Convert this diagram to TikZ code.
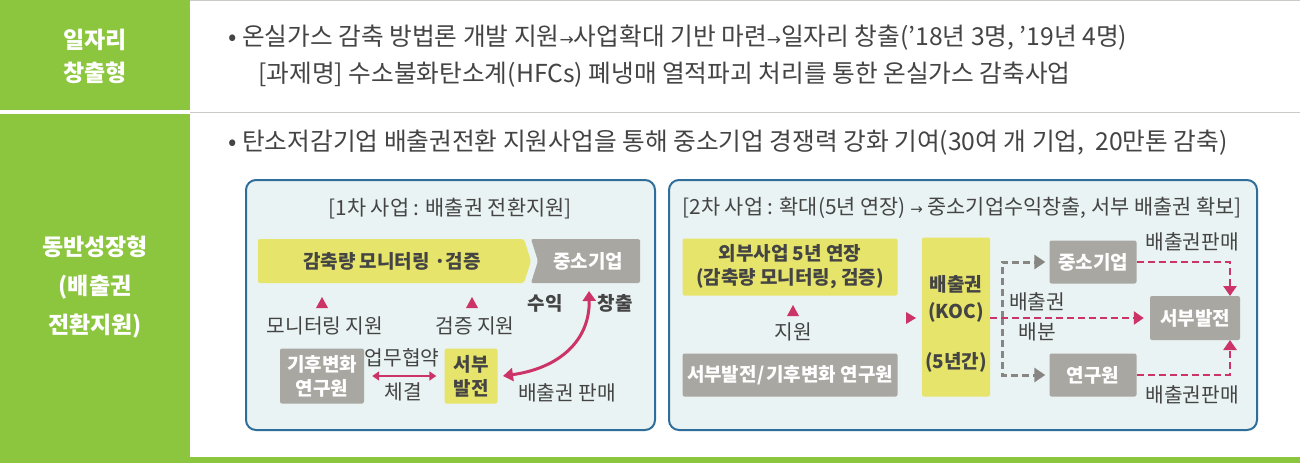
\documentclass[tikz,border=0pt]{standalone}
\usepackage{fontspec}
\setmainfont{Noto Sans CJK KR}
\newfontfamily\djv{DejaVu Sans}
\usetikzlibrary{arrows.meta}
\definecolor{grn}{HTML}{8CC63F}
\definecolor{ylw}{HTML}{E6E46A}
\definecolor{gry}{HTML}{A9A7A2}
\definecolor{pnk}{HTML}{CC3366}
\definecolor{bbd}{HTML}{2F6E9B}
\definecolor{bfl}{HTML}{EAF3F3}
\definecolor{txt}{HTML}{444444}
\begin{document}
\begin{tikzpicture}[x=1pt,y=-1pt,
 every node/.style={text=txt,inner sep=0pt},
 big/.style={font=\fontsize{24.7}{29}\selectfont},
 side/.style={font=\fontsize{23}{27}\selectfont\bfseries,text=white,align=center},
 sm/.style={font=\fontsize{20.3}{24}\selectfont},
 bl/.style={font=\fontsize{19}{23}\selectfont\bfseries},
 ybox/.style={fill=ylw,rounded corners=2pt,font=\fontsize{19}{24}\selectfont\bfseries,align=center},
 gbox/.style={fill=gry,rounded corners=2pt,text=white,font=\fontsize{19}{24}\selectfont\bfseries,align=center},
 pd/.style={pnk,line width=2.5pt,dash pattern=on 7pt off 4pt,-{Triangle[length=10pt,width=13pt]}},
 gd/.style={gry!80!black,line width=3pt,dash pattern=on 7pt off 4pt,-{Triangle[length=11pt,width=14pt]}},
 panel/.style={draw=bbd,line width=2pt,fill=bfl,rounded corners=10pt}]
\useasboundingbox (0,0) rectangle (1300,463);
\fill[white] (0,0) rectangle (1300,463);
\fill[grn] (0,0) rectangle (190,110);
\fill[grn] (0,114) rectangle (190,463);
\fill[grn] (190,457) rectangle (1300,463);
\draw[gry!60,line width=1pt] (190,0.5)--(1300,0.5) (190,112)--(1300,112);
\node[side] (l1) at (95,56) {일자리\\[6pt]창출형};
\node[side] (l2) at (95,287) {동반성장형\\[12pt](배출권\\[12pt]전환지원)};
\node[big,anchor=west] (t1) at (228,38) {• 온실가스 감축 방법론 개발 지원{\djv\fontsize{17}{17}\selectfont→}사업확대 기반 마련{\djv\fontsize{17}{17}\selectfont→}일자리 창출(’18년 3명, ’19년 4명)};
\node[big,anchor=west] (t2) at (258,75) {[과제명] 수소불화탄소계(HFCs) 폐냉매 열적파괴 처리를 통한 온실가스 감축사업};
\node[big,anchor=west] (t3) at (228,143) {• 탄소저감기업 배출권전환 지원사업을 통해 중소기업 경쟁력 강화 기여(30여 개 기업, ~20만톤 감축)};
% panel 1
\draw[panel] (246,180) rectangle (655,430);
\node[font=\fontsize{20.8}{24}\selectfont] (p1) at (450,209) {[1차 사업 : 배출권 전환지원]};
\fill[ylw,rounded corners=2pt] (258,239)--(524,239)--(531,261)--(524,283)--(258,283)--cycle;
\node[bl] (mon) at (392,261) {감축량 모니터링 ·검증};
\fill[gry,rounded corners=2pt] (531,239)--(640,239)--(640,283)--(531,283)--(538,261)--cycle;
\node[bl,text=white] (sme1) at (588,261) {중소기업};
\fill[pnk] (316,308)--(328,308)--(322,297)--cycle;
\fill[pnk] (466,308)--(478,308)--(472,297)--cycle;
\node[sm] (ms) at (325,326) {모니터링 지원};
\node[sm] (vs) at (475,326) {검증 지원};
\node[gbox,minimum width=84pt,minimum height=55pt] (cc) at (322,376) {기후변화\\연구원};
\node[ybox,minimum width=53pt,minimum height=55pt] (sb) at (471,376) {서부\\발전};
\draw[pnk,line width=2pt,{Triangle[length=7pt,width=9pt]}-{Triangle[length=7pt,width=9pt]}] ([xshift=8]cc.east) -- ([xshift=-8]sb.west);
\node[sm] (mou) at (402,358) {업무협약};
\node[sm] (sig) at (403,392) {체결};
\node[bl] (inc) at (545,303) {수익};
\node[bl] (cr) at (615,303) {창출};
\coordinate (ce) at (589,291);
\draw[pnk,line width=3pt,{Triangle[length=10pt,width=13pt]}-{Triangle[length=10pt,width=13pt]}] (503,376) .. controls (560,368) and (590,340) .. (ce);
\node[sm] (sell) at (567,393) {배출권 판매};
% panel 2
\draw[panel] (669,180) rectangle (1257,430);
\node[font=\fontsize{20.8}{24}\selectfont] (p2) at (962,208) {[2차 사업 : 확대(5년 연장) {\djv\fontsize{15}{15}\selectfont→} 중소기업수익창출, 서부 배출권 확보]};
\node[ybox,minimum width=215pt,minimum height=57pt] (ext) at (790,267) {외부사업 5년 연장\\(감축량 모니터링, 검증)};
\node[gbox,minimum width=215pt,minimum height=43pt] (wb) at (790,375) {서부발전\kern1pt/\kern1pt기후변화 연구원};
\fill[pnk] (787,316)--(799,316)--(793,305)--cycle;
\node[sm] (sup) at (793,332) {지원};
\fill[pnk] (906,312)--(906,324)--(916,318)--cycle;
\node[ybox,minimum width=68pt,minimum height=159pt] (koc) at (956,317) {};
\node[bl] (k1) at (956,284) {배출권};
\node[bl] (k2) at (956,312) {(KOC)};
\node[bl] (k3) at (956,362) {(5년간)};
\node[gbox,minimum width=87pt,minimum height=43pt] (sme2) at (1093,262) {중소기업};
\node[gbox,minimum width=87pt,minimum height=43pt] (res) at (1093,375) {연구원};
\node[gbox,minimum width=90pt,minimum height=44pt] (wsp) at (1195,318) {서부발전};
\coordinate (jn) at (1002,318);
\draw[gd] (jn) |- ([xshift=-4]sme2.west);
\draw[gd] (jn) |- ([xshift=-4]res.west);
\draw[pd] (koc.east|-wsp.west) -- ([xshift=-6]wsp.west);
\node[sm] (al1) at (1037,302) {배출권};
\node[sm] (al2) at (1037,332) {배분};
\draw[pd] (sme2.east) -| (1230,296);
\draw[pd] (res.east) -| (1230,340);
\node[sm] (s1) at (1192,242) {배출권판매};
\node[sm] (s2) at (1192,395) {배출권판매};
\end{tikzpicture}
\end{document}
